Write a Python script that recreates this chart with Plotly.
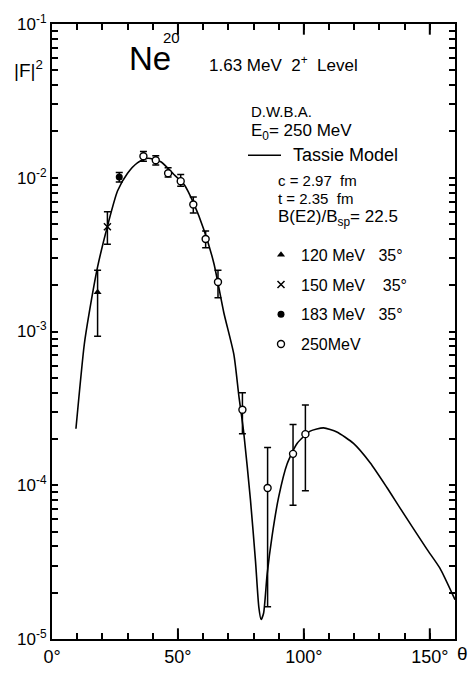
import math
import plotly.graph_objects as go

# ---- measured form factors |F|^2 versus scattering angle (degrees) ----
theta_120 = [18.1]
f2_120 = [1.8e-3]
f2_120_hi = [2.5e-3]
f2_120_lo = [9.3e-4]

theta_150 = [22.0]
f2_150 = [4.8e-3]
f2_150_hi = [6.0e-3]
f2_150_lo = [3.7e-3]

theta_183 = [26.7]
f2_183 = [1.01e-2]
f2_183_hi = [1.08e-2]
f2_183_lo = [9.4e-3]

theta_250 = [36.3, 41.2, 46.1, 51.1, 56.1, 61.0, 65.9, 75.6, 85.6, 95.7, 100.6]
f2_250 = [1.38e-2, 1.30e-2, 1.07e-2, 9.5e-3, 6.7e-3, 4.0e-3, 2.1e-3, 3.1e-4, 9.6e-5, 1.60e-4, 2.15e-4]
f2_250_hi = [1.48e-2, 1.39e-2, 1.16e-2, 1.05e-2, 7.5e-3, 4.5e-3, 2.5e-3, 4.0e-4, 1.76e-4, 2.48e-4, 3.33e-4]
f2_250_lo = [1.28e-2, 1.21e-2, 1.01e-2, 8.8e-3, 5.9e-3, 3.5e-3, 1.66e-3, 2.16e-4, 1.62e-5, 7.4e-5, 9.2e-5]

# ---- Tassie model DWBA curve (E0 = 250 MeV) ----
theta_model = [9.5, 12.8, 14.8, 18.1, 22.0, 26.0, 30.0, 33.9, 38.0, 43.2, 48.4, 52.4,
               56.3, 60.3, 64.3, 68.2, 72.2, 74.2, 76.1, 78.8, 80.8, 82.1, 83.0, 84.0,
               85.4, 87.4, 90.0, 93.3, 97.3, 102.5, 107.8, 113.1, 119.7, 126.3, 132.9,
               138.2, 148.7, 154.0, 160.0]
f2_model = [2.33e-4, 8.2e-4, 1.33e-3, 2.63e-3, 4.83e-3, 8.2e-3, 1.07e-2, 1.25e-2, 1.34e-2,
            1.27e-2, 1.05e-2, 9.06e-3, 6.78e-3, 4.59e-3, 2.76e-3, 1.33e-3, 7.1e-4, 3.8e-4,
            2.22e-4, 8.0e-5, 3.2e-5, 1.62e-5, 1.34e-5, 1.47e-5, 2.62e-5, 4.7e-5, 8.4e-5,
            1.37e-4, 1.87e-4, 2.25e-4, 2.36e-4, 2.22e-4, 1.87e-4, 1.40e-4, 9.7e-5, 7.1e-5,
            3.87e-5, 2.89e-5, 1.80e-5]

x_major = [0, 50, 100, 150]
x_major_text = ["0°", "50°", "100°", "150°"]
y_major = [1e-5, 1e-4, 1e-3, 1e-2, 1e-1]
y_major_text = ["10<sup>-5</sup>", "10<sup>-4</sup>", "10<sup>-3</sup>",
                "10<sup>-2</sup>", "10<sup>-1</sup>"]

# every tick position: 10-degree steps on x, 1..9 x 10^n on the log y axis
x_tickvals = list(range(0, 161, 10))
x_ticktext = [x_major_text[x_major.index(t)] if t in x_major else "" for t in x_tickvals]
decades = [1e-5, 1e-4, 1e-3, 1e-2]
y_tickvals = [m * d for d in decades for m in range(1, 10)] + [1e-1]
y_ticktext = [y_major_text[y_major.index(v)] if v in y_major else "" for v in y_tickvals]
y_mid = [5 * d for d in decades]

FONT = "Liberation Sans, Arial, sans-serif"
W, H = 470, 679
ML, MR, MT, MB = 52, 15, 20, 26
PW, PH = W - ML - MR, H - MT - MB


def px(x):
    return (x - ML) / PW


def py(y):
    return 1 - (y - MT) / PH


def errs(v, hi, lo):
    return ([h - a for a, h in zip(v, hi)], [a - l for a, l in zip(v, lo)])


fig = go.Figure()

fig.add_trace(go.Scatter(
    x=theta_model, y=f2_model, mode="lines",
    line=dict(color="black", width=1.6, shape="spline", smoothing=0.6),
    showlegend=False, hoverinfo="skip"))

series = [
    ("120\u00a0MeV\u00a0\u00a0\u00a035°", theta_120, f2_120, f2_120_hi, f2_120_lo,
     dict(symbol="triangle-up", size=7, color="black")),
    ("150\u00a0MeV\u00a0\u00a0\u00a0\u00a035°", theta_150, f2_150, f2_150_hi, f2_150_lo,
     dict(symbol="x-thin", size=7, line=dict(color="black", width=1.5))),
    ("183\u00a0MeV\u00a0\u00a0\u00a035°", theta_183, f2_183, f2_183_hi, f2_183_lo,
     dict(symbol="circle", size=7, color="black")),
    ("250MeV", theta_250, f2_250, f2_250_hi, f2_250_lo,
     dict(symbol="circle", size=7, color="white", line=dict(color="black", width=1.4))),
]
for i, (name, th, v, hi, lo, mk) in enumerate(series):
    up, dn = errs(v, hi, lo)
    fig.add_trace(go.Scatter(
        x=th, y=v, mode="markers", name=name, marker=mk, legendgroup=str(i),
        error_y=dict(type="data", symmetric=False, array=up, arrayminus=dn,
                     color="black", thickness=1.5, width=3.5)))

annotations = [
    dict(text="Ne", x=px(127), y=py(56), font=dict(size=33)),
    dict(text="20", x=px(161), y=py(34), font=dict(size=15)),
    dict(text="1.63\u00a0MeV\u00a0\u00a02<sup>+</sup>\u00a0\u00a0Level", x=px(207), y=py(61),
         font=dict(size=17)),
    dict(text="D.W.B.A.", x=px(249), y=py(110), font=dict(size=15)),
    dict(text="E<sub>0</sub>=\u00a0250\u00a0MeV", x=px(249), y=py(131), font=dict(size=17)),
    dict(text="Tassie\u00a0Model", x=px(291), y=py(155), font=dict(size=18)),
    dict(text="c\u00a0=\u00a02.97\u00a0\u00a0fm", x=px(276), y=py(181), font=dict(size=15)),
    dict(text="t\u00a0=\u00a02.35\u00a0\u00a0fm", x=px(276), y=py(200), font=dict(size=15)),
    dict(text="B(E2)/B<sub>sp</sub>=\u00a022.5", x=px(276), y=py(220), font=dict(size=17)),
    dict(text="|F|<sup>2</sup>", x=px(12), y=py(66), font=dict(size=19)),
    dict(text="θ", x=px(455), y=py(668), font=dict(size=19)),
]
for a in annotations:
    a.update(xref="paper", yref="paper", xanchor="left", yanchor="middle",
             showarrow=False)
    a["font"].update(family=FONT, color="black")

# longer marks for the labelled positions and the 5 x 10^n positions
tick_line = dict(color="black", width=2)
shapes = [dict(type="line", xref="paper", yref="paper",
               x0=px(248), x1=px(281), y0=py(155), y1=py(155),
               line=dict(color="black", width=1.5))]
for t in x_major[1:]:
    for base, sign in ((0.0, 1), (1.0, -1)):
        shapes.append(dict(type="line", xref="x", yref="paper", x0=t, x1=t,
                           y0=base, y1=base + sign * 11 / PH, line=tick_line))
for v, ln in [(v, 13) for v in y_major[1:-1]] + [(v, 9) for v in y_mid]:
    lv = math.log10(v)
    for base, sign in ((0.0, 1), (1.0, -1)):
        shapes.append(dict(type="line", xref="paper", yref="y", y0=lv, y1=lv,
                           x0=base, x1=base + sign * ln / PW, line=tick_line))

axis_common = dict(ticks="inside", tickcolor="black", showgrid=False, zeroline=False,
                   mirror="ticks", showline=True, linewidth=2, linecolor="black",
                   tickwidth=2, ticklen=6)

fig.update_layout(
    width=W, height=H,
    margin=dict(l=ML, r=MR, t=MT, b=MB),
    paper_bgcolor="white", plot_bgcolor="white",
    font=dict(family=FONT, color="black", size=16),
    annotations=annotations,
    shapes=shapes,
    legend=dict(x=px(261), y=py(240), xanchor="left", yanchor="top",
                bgcolor="rgba(0,0,0,0)", font=dict(size=16, family=FONT),
                tracegroupgap=6, itemwidth=30),
    xaxis=dict(range=[0, 160], tickvals=x_tickvals, ticktext=x_ticktext,
               tickfont=dict(size=18), **axis_common),
    yaxis=dict(type="log", range=[-5, -1], tickvals=y_tickvals, ticktext=y_ticktext,
               tickfont=dict(size=17), **axis_common),
)

fig.write_html("out.html")
